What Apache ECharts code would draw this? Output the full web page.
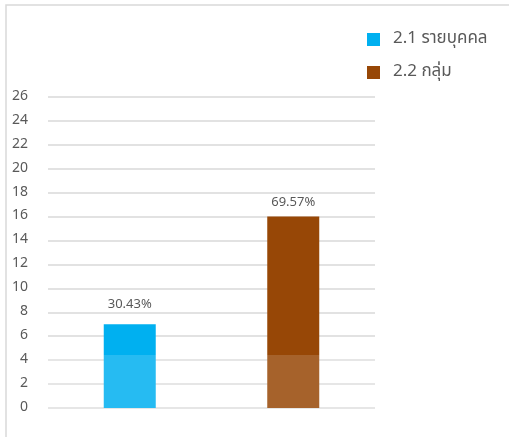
<!DOCTYPE html>
<html>
<head>
<meta charset="utf-8">
<script src="https://cdn.jsdelivr.net/npm/echarts@6/dist/echarts.min.js"></script>
<style>html,body{margin:0;padding:0;background:#fff;}#c{width:509px;height:437px;}</style>
</head>
<body>
<div id="c"></div>
<script>
var categories = ['2.1 รายบุคคล', '2.2 กลุ่ม'];
var seriesNames = ['2.1 รายบุคคล', '2.2 กลุ่ม'];
var individualValues = [7, '-'];
var groupValues = ['-', 16];
var percentLabels = ['30.43%', '69.57%'];
var yTicks = [0, 26, 2];

var font = '"Noto Sans Thai", "Noto Sans", "DejaVu Sans", sans-serif';
var chart = echarts.init(document.getElementById('c'));
chart.setOption({
  animation: false,
  backgroundColor: '#fff',
  textStyle: { fontFamily: font },
  legend: {
    orient: 'vertical',
    left: 367,
    top: 31,
    padding: 0,
    itemWidth: 13,
    itemHeight: 13,
    itemGap: 16,
    icon: 'rect',
    textStyle: { fontSize: 17, color: '#595959', fontFamily: font, padding: [0, 0, 0, 8] },
    data: seriesNames
  },
  grid: { left: 48, right: 134, top: 97, bottom: 29 },
  xAxis: {
    type: 'category',
    data: categories,
    axisLine: { show: false },
    axisTick: { show: false },
    axisLabel: { show: false }
  },
  yAxis: {
    type: 'value',
    min: yTicks[0], max: yTicks[1], interval: yTicks[2],
    axisLabel: { color: '#595959', fontSize: 14, margin: 20, padding: [4, 0, 0, 0] },
    splitLine: { lineStyle: { color: '#D9D9D9', width: 1.5 } },
    axisLine: { show: false }, axisTick: { show: false }
  },
  series: [
    {
      name: seriesNames[0], type: 'bar', stack: 's', barWidth: 52,
      data: individualValues,
      itemStyle: { color: '#00B0F0' },
      label: { show: true, position: 'top', distance: 12, color: '#595959', fontSize: 13,
        formatter: function (p) { return percentLabels[p.dataIndex]; } }
    },
    {
      name: seriesNames[1], type: 'bar', stack: 's', barWidth: 52,
      data: groupValues,
      itemStyle: { color: '#974706' },
      label: { show: true, position: 'top', distance: 7, color: '#595959', fontSize: 13,
        formatter: function (p) { return percentLabels[p.dataIndex]; } }
    }
  ],
  graphic: [
    { type: 'rect', left: 48, top: 355, shape: { width: 470, height: 90 },
      style: { fill: 'rgba(255,255,255,0.15)' }, z: 100, silent: true },
    { type: 'rect', shape: { x: 6, y: 5, width: 520, height: 450 },
      style: { fill: 'none', stroke: '#D9D9D9', lineWidth: 1.5 }, z: 100, silent: true }
  ]
});
</script>
</body>
</html>
